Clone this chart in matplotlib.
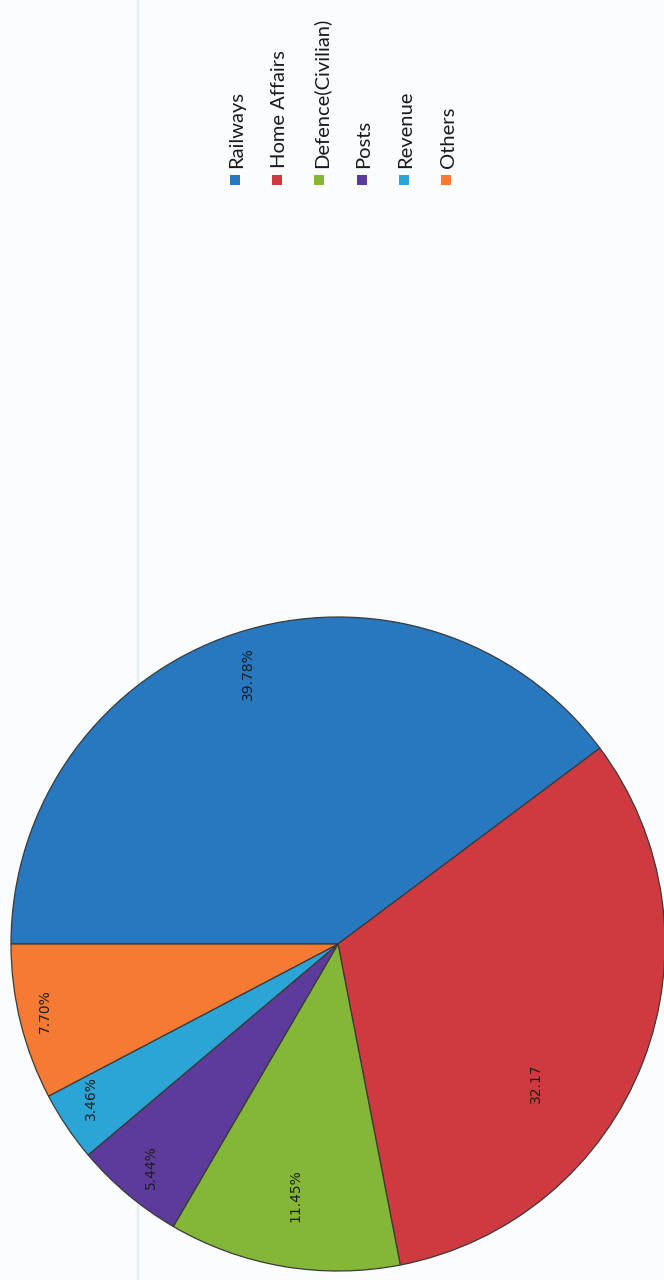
import numpy as np
import matplotlib
matplotlib.use("Agg")
import matplotlib.pyplot as plt
from matplotlib.patches import Rectangle

# ---- data ----
categories = ["Railways", "Home Affairs", "Defence(Civilian)", "Posts", "Revenue", "Others"]
shares = [39.78, 32.17, 11.45, 5.44, 3.46, 7.70]
value_labels = ["39.78%", "32.17", "11.45%", "5.44%", "3.46%", "7.70%"]

# ---- style ----
colors = ["#2878bf", "#cf3a40", "#84b737", "#5c3b9b", "#2aa5d5", "#f57b34"]
label_radius = [0.87, 0.74, 0.78, 0.89, 0.89, 0.92]
label_angle_shift = [0, -14, 0, 0, -2, -1]

W, H = 664, 1280
fig = plt.figure(figsize=(W / 100, H / 100), dpi=100)
fig.patch.set_facecolor("#fbfcfe")

# faint scan line (behind the pie)
fig.add_artist(plt.Line2D([138 / W, 138 / W], [0, 1], color="#e3ecf4", lw=1.5,
                          zorder=-5))

cx, cy, R = 338, 944, 327
ax = fig.add_axes([(cx - R) / W, (H - cy - R) / H, 2 * R / W, 2 * R / H])
ax.set_zorder(1)
ax.patch.set_visible(False)
wedges, _ = ax.pie(shares, colors=colors, startangle=180, counterclock=False,
                   radius=1.0,
                   wedgeprops=dict(edgecolor="#3a3a3a", linewidth=0.9))
ax.set_xlim(-1, 1)
ax.set_ylim(-1, 1)
ax.set_aspect("equal")
ax.axis("off")

for w, lab, r, dth in zip(wedges, value_labels, label_radius, label_angle_shift):
    mid = np.deg2rad((w.theta1 + w.theta2) / 2 + dth)
    ax.text(r * np.cos(mid), r * np.sin(mid), lab, rotation=90,
            ha="center", va="center", fontsize=10, color="#1e1e1e",
            family="DejaVu Sans")

# ---- legend (rotated, drawn manually) ----
x0, dx = 235, 42.2
sq = 10
for i, (cat, col) in enumerate(zip(categories, colors)):
    xc = x0 + i * dx
    fig.add_artist(Rectangle(((xc - sq / 2) / W, (H - 180 - sq / 2) / H),
                             sq / W, sq / H, facecolor=col,
                             edgecolor="none", transform=fig.transFigure))
    fig.text(xc / W + 2 / W, (H - 168) / H, cat, rotation=90, ha="center", va="bottom",
             fontsize=14.5, color="#1a1a1a", family="Lato")

fig.savefig("out.png", dpi=100, facecolor=fig.get_facecolor())
